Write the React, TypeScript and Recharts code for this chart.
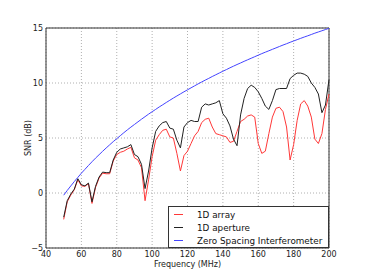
import { LineChart, Line, XAxis, YAxis, CartesianGrid, ReferenceLine, Legend } from 'recharts';

const freqs = [
  50, 52, 54, 56, 58, 60, 62, 64, 66, 68, 70, 72, 74, 76, 78, 80, 82, 84, 86, 88,
  90, 92, 94, 96, 98, 100, 102, 104, 106, 108, 110, 112, 114, 116, 118, 120, 122, 124, 126, 128,
  130, 132, 134, 136, 138, 140, 142, 144, 146, 148, 150, 152, 154, 156, 158, 160, 162, 164, 166, 168,
  170, 172, 174, 176, 178, 180, 182, 184, 186, 188, 190, 192, 194, 196, 198, 200,
];

const array1d = [
  -2.4, -0.8, -0.2, 0.3, 1.2, 0.65, 0.6, 0.85, -0.95, 0.5, 1.35, 1.8, 1.75, 1.75, 2.9, 3.5, 3.7, 3.8, 4.0, 4.15,
  3.2, 3.0, 2.3, -0.7, 1.2, 3.3, 4.8, 5.3, 5.7, 5.8, 5.1, 5.0, 3.6, 2.0, 3.4, 3.8, 4.5, 5.2, 5.6, 6.4,
  6.7, 6.8, 6.0, 5.4, 5.3, 5.2, 5.1, 4.6, 4.7, 5.6, 6.5, 6.7, 7.0, 7.1, 6.9, 4.5, 3.6, 3.8, 5.4, 6.9,
  7.7, 7.8, 7.4, 6.0, 3.0, 4.4, 6.6, 8.1, 8.4, 7.9, 6.9, 4.9, 4.5, 5.4, 7.6, 9.0,
];

const aperture1d = [
  -2.2, -0.7, -0.1, 0.35, 1.3, 0.75, 0.65, 0.9, -0.8, 0.6, 1.45, 1.9, 1.85, 1.85, 3.0, 3.7, 4.0, 4.1, 4.2, 4.4,
  3.5, 3.3, 2.6, 0.4, 2.0, 4.1, 5.6, 6.1, 6.4, 6.5, 5.9, 5.8, 4.8, 4.1, 6.0, 6.4, 6.6, 6.5, 6.5, 7.8,
  8.1, 8.0, 8.1, 8.2, 8.4, 7.2, 6.8, 6.1, 4.9, 4.3, 7.1, 8.6, 9.5, 9.8, 9.6, 9.2, 8.6, 7.9, 7.6, 8.4,
  9.4, 9.5, 9.5, 9.5, 10.4, 10.7, 10.9, 10.9, 10.8, 10.6, 10.0, 9.6, 9.0, 7.3, 8.0, 10.3,
];

const zeroSpacing = [
  -0.2, 0.23, 0.64, 1.04, 1.42, 1.8, 2.15, 2.5, 2.84, 3.17, 3.48, 3.79, 4.09, 4.38, 4.67, 4.94, 5.21, 5.48, 5.74, 5.99,
  6.23, 6.47, 6.71, 6.94, 7.17, 7.39, 7.6, 7.82, 8.02, 8.23, 8.43, 8.63, 8.82, 9.01, 9.2, 9.38, 9.56, 9.74, 9.92, 10.09,
  10.26, 10.42, 10.59, 10.75, 10.91, 11.07, 11.22, 11.38, 11.53, 11.68, 11.82, 11.97, 12.11, 12.25, 12.39, 12.53, 12.67, 12.8, 12.93, 13.06,
  13.19, 13.32, 13.45, 13.57, 13.7, 13.82, 13.94, 14.06, 14.18, 14.29, 14.41, 14.53, 14.64, 14.75, 14.86, 14.97,
];

const xTicks = [40, 60, 80, 100, 120, 140, 160, 180, 200];
const yTicks = [-5, 0, 5, 10, 15];

const series = [
  { key: 'array', name: '1D array', color: '#ff3838' },
  { key: 'aperture', name: '1D aperture', color: '#222222' },
  { key: 'zero', name: 'Zero Spacing Interferometer', color: '#4444ff' },
];

const rows = freqs.map((f, i) => ({
  f,
  array: array1d[i],
  aperture: aperture1d[i],
  zero: zeroSpacing[i],
}));

const font = '"DejaVu Sans", sans-serif';
const tickStyle = { fill: '#222', fontSize: 8, fontFamily: font };
const minus = (v: number) => String(v).replace('-', '\u2212');

function LegendBox() {
  return (
    <div
      style={{
        width: 161,
        height: 42,
        border: '1px solid #333',
        background: '#fff',
        fontFamily: font,
        fontSize: 8.8,
        color: '#111',
        boxSizing: 'border-box',
        paddingTop: 1,
        whiteSpace: 'nowrap',
        overflow: 'visible',
      }}
    >
      {series.map(s => (
        <div key={s.key} style={{ display: 'flex', alignItems: 'center', height: 13 }}>
          <span style={{ display: 'inline-block', width: 9, height: 0, borderTop: `1px solid ${s.color}`, marginLeft: 5, marginRight: 14 }} />
          <span>{s.name}</span>
        </div>
      ))}
    </div>
  );
}

export default function App() {
  return (
    <div style={{ position: 'absolute', left: 0, top: 0, width: 366, height: 276, background: '#fff' }}>
      <LineChart width={366} height={276} data={rows} margin={{ top: 28, right: 37, bottom: 0, left: 0 }}>
        <CartesianGrid stroke="#b0b0b0" strokeDasharray="1 2" />
        <XAxis
          dataKey="f"
          type="number"
          domain={[40, 200]}
          ticks={xTicks}
          tick={tickStyle}
          tickSize={0}
          tickMargin={3}
          axisLine={{ stroke: '#333' }}
          height={28}
          label={{ value: 'Frequency (MHz)', position: 'insideTop', offset: 13, style: { ...tickStyle, textAnchor: 'middle' } }}
        />
        <YAxis
          type="number"
          domain={[-5, 15]}
          ticks={yTicks}
          tick={tickStyle}
          tickFormatter={minus}
          tickSize={0}
          tickMargin={3}
          axisLine={{ stroke: '#333' }}
          width={46}
          label={{ value: 'SNR (dB)', angle: -90, position: 'insideLeft', offset: 28, style: { ...tickStyle, textAnchor: 'middle' } }}
        />
        <ReferenceLine y={15} stroke="#333" />
        <ReferenceLine x={200} stroke="#333" />
        {series.map(s => (
          <Line
            key={s.key}
            dataKey={s.key}
            name={s.name}
            stroke={s.color}
            strokeWidth={1}
            dot={false}
            type="linear"
            isAnimationActive={false}
          />
        ))}
        <Legend
          layout="vertical"
          align="center"
          verticalAlign="middle"
          content={() => <LegendBox />}
          wrapperStyle={{ left: 168, top: 206, width: 161, height: 42 }}
        />
      </LineChart>
    </div>
  );
}
